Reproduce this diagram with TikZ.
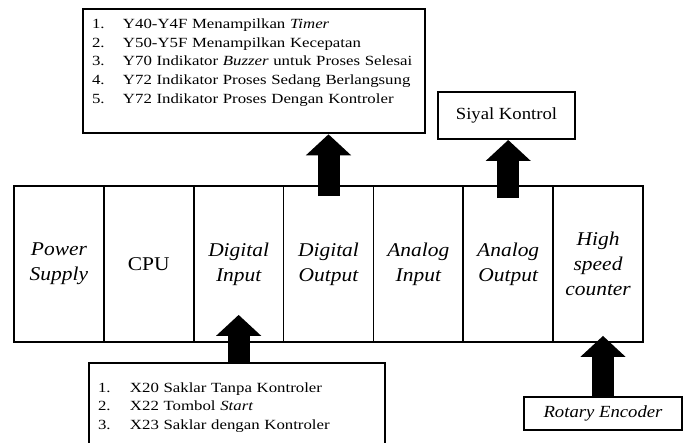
\documentclass[tikz,border=0pt]{standalone}
\usepackage{fontspec}
\setmainfont{Liberation Serif}
\newfontfamily\cellfont[FakeStretch=1.1]{Liberation Serif}
\newfontfamily\listfont[FakeStretch=1.2]{Liberation Serif}
\usetikzlibrary{arrows.meta}
\tikzset{
    cell/.style={draw, line width=1.8pt, minimum width=89.857pt, minimum height=156pt, inner sep=0pt, align=center, font=\cellfont\fontsize{19.5}{25}\selectfont\itshape}, % module cells
    listbox/.style={draw, line width=2.6pt, inner xsep=9pt, inner ysep=0pt, align=left, font=\listfont\fontsize{14}{18.7}\selectfont}, % address lists
    labelbox/.style={draw, line width=2pt, inner sep=0pt, font=\cellfont\fontsize{17}{20}\selectfont}, % small boxes
    bigarrow/.style={line width=22pt, -{Triangle[length=21pt, width=44pt]}} % block arrows
}

\begin{document}
\begin{tikzpicture}[x=1pt, y=-1pt]
    \useasboundingbox (0,0) rectangle (686,443);
    \def\cellw{89.857}

    \foreach \i/\nm/\txt in {0/ps/{Power\\Supply}, 1/cpu/{\upshape CPU}, 2/din/{Digital\\Input}, 3/dout/{Digital\\Output}, 4/ain/{Analog\\Input}, 5/aout/{Analog\\Output}, 6/hsc/{High\\speed\\counter}} {
        \node[cell] (\nm) at ({14+\cellw*(\i+0.5)}, 264) {\txt};
    }

    \node[listbox, text width=324pt, minimum height=124pt] (outbox) at (254,71) {%
        \begin{tabular}{@{}p{31pt}@{}l@{}}
        1. & Y40-Y4F Menampilkan \textit{Timer}\\
        2. & Y50-Y5F Menampilkan Kecepatan\\
        3. & Y70 Indikator \textit{Buzzer} untuk Proses Selesai\\
        4. & Y72 Indikator Proses Sedang Berlangsung\\
        5. & Y72 Indikator Proses Dengan Kontroler\\[18pt]
        \end{tabular}};
    \node[listbox, text width=278pt, minimum height=88pt] (inbox) at (237,407) {%
        \begin{tabular}{@{}p{32pt}@{}l@{}}
        1. & X20 Saklar Tanpa Kontroler\\
        2. & X22 Tombol \textit{Start}\\
        3. & X23 Saklar dengan Kontroler
        \end{tabular}};
    \node[labelbox, minimum width=137pt, minimum height=47pt] (siyal) at (506.5,115.5) {Siyal Kontrol};
    \node[labelbox, minimum width=158pt, minimum height=33pt] (rotary) at (603,413.5) {\itshape Rotary Encoder};

    \coordinate (hsctip) at ([yshift=7pt]hsc.south);
    \draw[bigarrow] ([yshift=-11pt]dout.north) -- (dout.north |- outbox.south);
    \draw[bigarrow] ([yshift=-13pt]aout.north) -- (aout.north |- siyal.south);
    \draw[bigarrow] (din.south |- inbox.north) -- ([yshift=28pt]din.south);
    \draw[bigarrow] (rotary.north) -- (hsctip -| rotary.north);
\end{tikzpicture}
\end{document}
